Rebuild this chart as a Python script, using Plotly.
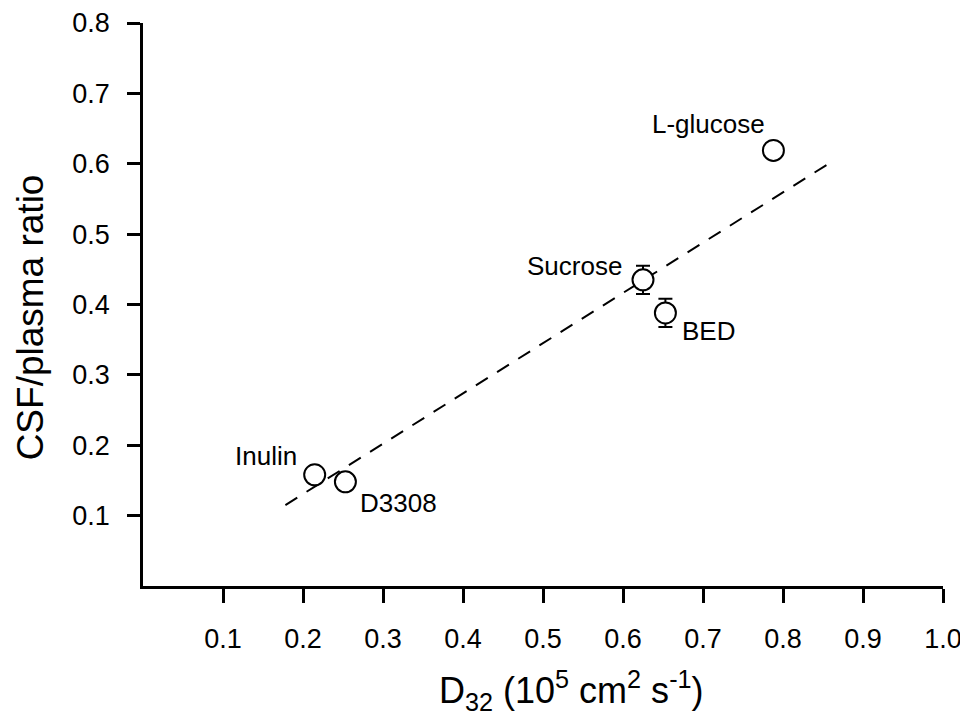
import plotly.graph_objects as go

# Data
names = ["Inulin", "D3308", "Sucrose", "BED", "L-glucose"]
d32 = [0.2146, 0.253, 0.625, 0.653, 0.788]
ratio = [0.158, 0.148, 0.435, 0.388, 0.619]
err = [0.0, 0.0, 0.020, 0.020, 0.0]

fit_x = [0.178, 0.8625]
fit_y = [0.115, 0.604]

x_ticks = [0.1, 0.2, 0.3, 0.4, 0.5, 0.6, 0.7, 0.8, 0.9, 1.0]
x_ticktext = ["0.1", "0.2", "0.3", "0.4", "0.5", "0.6", "0.7", "0.8", "0.9", "1.0"]
y_ticks = [0.1, 0.2, 0.3, 0.4, 0.5, 0.6, 0.7, 0.8]
y_ticktext = ["0.1", "0.2", "0.3", "0.4", "0.5", "0.6", "0.7", "0.8"]

# label placement (pixel offsets from the point)
label_style = {
    "Inulin": dict(xanchor="right", xshift=-16, yshift=19),
    "D3308": dict(xanchor="left", xshift=13, yshift=-21),
    "Sucrose": dict(xanchor="right", xshift=-19, yshift=14),
    "BED": dict(xanchor="left", xshift=15, yshift=-18),
    "L-glucose": dict(xanchor="right", xshift=-6, yshift=26),
}

FONT = "Arial, Liberation Sans, Helvetica, sans-serif"

fig = go.Figure()
fig.add_trace(go.Scatter(
    x=fit_x, y=fit_y, mode="lines",
    line=dict(color="black", width=2, dash="14px,11px"),
    hoverinfo="skip", showlegend=False,
))
fig.add_trace(go.Scatter(
    x=d32, y=ratio, mode="markers",
    marker=dict(symbol="circle", size=21, color="white",
                line=dict(color="black", width=2)),
    error_y=dict(type="data", array=err, visible=True,
                 color="black", thickness=2, width=7),
    showlegend=False,
))

for n, xv, yv in zip(names, d32, ratio):
    s = label_style[n]
    fig.add_annotation(x=xv, y=yv, xref="x", yref="y", text=n,
                       showarrow=False, yanchor="middle",
                       font=dict(family=FONT, size=26, color="black"), **s)

fig.add_annotation(text="CSF/plasma ratio", xref="paper", yref="paper",
                   x=-0.141, y=0.4775, xanchor="center", yanchor="middle",
                   textangle=-90, showarrow=False,
                   font=dict(family=FONT, size=37, color="black"))
fig.add_annotation(text="D<sub>32</sub> (10<sup>5</sup> cm<sup>2</sup> s<sup>-1</sup>)",
                   xref="paper", yref="paper",
                   x=0.535, y=-0.186, xanchor="center", yanchor="middle",
                   showarrow=False,
                   font=dict(family=FONT, size=36, color="black"))

# page body has an 8px margin, so the figure is sized to fit the window
fig.update_layout(
    width=960, height=709,
    margin=dict(l=135, r=25, t=15, b=131, autoexpand=False),
    plot_bgcolor="white", paper_bgcolor="white",
    font=dict(family=FONT, color="black"),
)
fig.update_xaxes(
    range=[0, 1.0], tickvals=x_ticks, ticktext=x_ticktext, automargin=False,
    showgrid=False, zeroline=False, showline=True, linecolor="black", linewidth=2.5,
    ticks="outside", ticklen=14, tickwidth=2.5, tickcolor="black",
    tickfont=dict(family=FONT, size=27, color="black"), ticklabelstandoff=13,
)
fig.update_yaxes(
    range=[0, 0.8], tickvals=y_ticks, ticktext=y_ticktext, automargin=False,
    showgrid=False, zeroline=False, showline=True, linecolor="black", linewidth=2.5,
    ticks="outside", ticklen=13, tickwidth=2.5, tickcolor="black",
    tickfont=dict(family=FONT, size=27, color="black"), ticklabelstandoff=12,
)

fig.write_html("out.html")
